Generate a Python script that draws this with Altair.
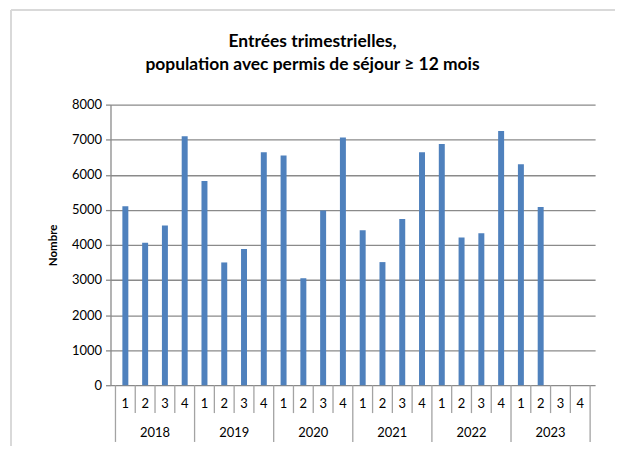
import altair as alt
import pandas as pd

years = [2018, 2019, 2020, 2021, 2022, 2023]
quarters = [1, 2, 3, 4]
values = [
    5100, 4060, 4550, 7100,
    5820, 3500, 3880, 6640,
    6550, 3050, 4980, 7060,
    4420, 3510, 4740, 6640,
    6880, 4210, 4330, 7250,
    6300, 5080, None, None,
]
y_ticks = [0, 1000, 2000, 3000, 4000, 5000, 6000, 7000, 8000]
title_lines = ["Entrées trimestrielles,", "population avec permis de séjour ≥ 12 mois"]

rows = []
for yi, yr in enumerate(years):
    for qi, q in enumerate(quarters):
        k = yi * len(quarters) + qi
        rows.append({"year": str(yr), "quarter": str(q), "pos": k + 0.5, "value": values[k]})
df = pd.DataFrame(rows)

n = len(years) * len(quarters)
bounds = pd.DataFrame({"b": list(range(n + 1))})
bounds["major"] = bounds["b"] % 4 == 0
years_df = pd.DataFrame({"year": [str(y) for y in years],
                         "pos": [i * 4 + 2 for i in range(len(years))]})

W, H = 487, 282
FONT = "Lato"
GRID = "#8a8a8a"
SEP = "#a3a3a3"
xscale = alt.Scale(domain=[0, n], nice=False, zero=False)

bars = alt.Chart(df).mark_bar(size=6, color="#4F81BD").encode(
    x=alt.X("pos:Q", scale=xscale, axis=None),
    y=alt.Y("value:Q", scale=alt.Scale(domain=[0, 8000], nice=False),
            axis=alt.Axis(values=y_ticks, title="Nombre", grid=True, format="d",
                          gridColor=GRID, gridWidth=1.3, domainColor=GRID, domainWidth=1.3,
                          tickColor=GRID, tickSize=5, tickWidth=1.3, labelPadding=4,
                          labelFont=FONT, labelFontSize=13, labelColor="#000000",
                          titleFont=FONT, titleFontSize=11.5, titleFontWeight="bold",
                          titleColor="#000000", titlePadding=13)),
)

minor = alt.Chart(bounds).transform_filter("!datum.major").mark_rule(
    color=SEP, strokeWidth=1.3).encode(
    x=alt.X("b:Q", scale=xscale, axis=None),
    y=alt.value(H), y2=alt.value(H + 28))

major = alt.Chart(bounds).transform_filter("datum.major").mark_rule(
    color=SEP, strokeWidth=1.3).encode(
    x=alt.X("b:Q", scale=xscale, axis=None),
    y=alt.value(H), y2=alt.value(H + 57))

qlabels = alt.Chart(df).mark_text(font=FONT, fontSize=13, baseline="middle",
                                  color="#000000").encode(
    x=alt.X("pos:Q", scale=xscale, axis=None),
    y=alt.value(H + 19), text="quarter:N")

ylabels = alt.Chart(years_df).mark_text(font=FONT, fontSize=13, baseline="middle",
                                        color="#000000").encode(
    x=alt.X("pos:Q", scale=xscale, axis=None),
    y=alt.value(H + 48), text="year:N")

one = pd.DataFrame({"a": [0]})
frame_left = alt.Chart(one).mark_rule(color="#d9d9d9", strokeWidth=2).encode(
    x=alt.value(-100), y=alt.value(-95), y2=alt.value(H + 80))
frame_top = alt.Chart(one).mark_rule(color="#d9d9d9", strokeWidth=2).encode(
    x=alt.value(-100), x2=alt.value(W + 40), y=alt.value(-95))

title1 = alt.Chart(one).mark_text(text=title_lines[0], font=FONT, fontSize=17.5,
                                  fontWeight="bold", color="#000000",
                                  baseline="alphabetic", align="center").encode(
    x=alt.value(203), y=alt.value(-58))
title2 = alt.Chart(one).mark_text(text=title_lines[1], font=FONT, fontSize=17.5,
                                  fontWeight="bold", color="#000000",
                                  baseline="alphabetic", align="center").encode(
    x=alt.value(203), y=alt.value(-35))

chart = alt.layer(frame_left, frame_top, title1, title2, bars, minor, major,
                  qlabels, ylabels).properties(
    width=W, height=H,
    padding={"left": 103, "top": 96, "right": 20, "bottom": 60},
    autosize=alt.AutoSizeParams(type="none"),
).configure_view(stroke=None)

chart.save("out.html", embed_options={"renderer": "svg", "actions": False})
